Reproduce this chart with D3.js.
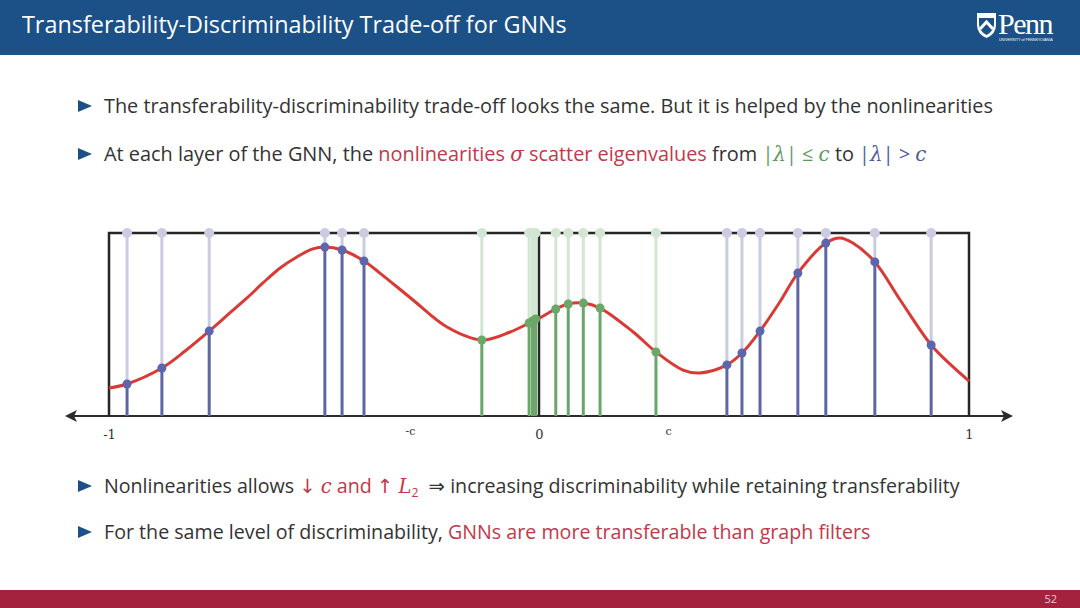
<!DOCTYPE html>
<html>
<head>
<meta charset="utf-8">
<script src="https://cdn.jsdelivr.net/npm/d3@7"></script>
<style>
  html, body { margin: 0; padding: 0; background: #fff; }
  svg { display: block; }
</style>
</head>
<body>
<div id="slide"></div>
<script>
// axis ticks
var tickValues = [-1, -0.3, 0, 0.3, 1];
var tickLabels = ["-1", "-c", "0", "c", "1"];

// red curve (x in [-1,1], y in [0,1])
var curveX = [-1.000, -0.958, -0.877, -0.823, -0.767, -0.719, -0.679, -0.642, -0.602, -0.563, -0.526, -0.498, -0.458, -0.407, -0.370, -0.293, -0.214, -0.133, -0.067, -0.023, 0.002, 0.039, 0.068, 0.103, 0.142, 0.219, 0.272, 0.335, 0.374, 0.437, 0.472, 0.514, 0.560, 0.602, 0.667, 0.700, 0.730, 0.781, 0.840, 0.912, 0.963, 1.000];
var curveY = [0.153, 0.175, 0.262, 0.355, 0.464, 0.563, 0.645, 0.727, 0.809, 0.869, 0.913, 0.923, 0.907, 0.847, 0.781, 0.634, 0.486, 0.415, 0.459, 0.508, 0.536, 0.585, 0.612, 0.617, 0.590, 0.459, 0.350, 0.251, 0.235, 0.279, 0.344, 0.464, 0.623, 0.781, 0.945, 0.973, 0.945, 0.842, 0.634, 0.388, 0.268, 0.191];

// eigenvalues outside [-c, c] (blue)
var outerX = [-0.958, -0.877, -0.767, -0.498, -0.458, -0.407, 0.437, 0.472, 0.514, 0.602, 0.667, 0.781, 0.912];
var outerY = [0.175, 0.262, 0.464, 0.923, 0.907, 0.847, 0.279, 0.344, 0.464, 0.781, 0.945, 0.842, 0.388];

// eigenvalues inside [-c, c] (green)
var innerX = [-0.133, -0.023, -0.015, -0.008, 0.039, 0.068, 0.103, 0.142, 0.272];
var innerY = [0.415, 0.508, 0.519, 0.530, 0.585, 0.612, 0.617, 0.590, 0.350];

var W = 1080, H = 608;
var textFont = "'Open Sans', 'DejaVu Sans', sans-serif";

var svg = d3.select("#slide").append("svg")
  .attr("width", W)
  .attr("height", H);

var defs = svg.append("defs");
defs.append("marker")
  .attr("id", "arrow")
  .attr("viewBox", "0 0 12 12")
  .attr("refX", 10)
  .attr("refY", 6)
  .attr("markerWidth", 12)
  .attr("markerHeight", 12)
  .attr("markerUnits", "userSpaceOnUse")
  .attr("orient", "auto-start-reverse")
  .append("path")
  .attr("d", "M0,0 L12,6 L0,12 L3,6 Z")
  .attr("fill", "#2b2b2b");

// header
svg.append("rect").attr("x", 0).attr("y", 0).attr("width", W).attr("height", 55).attr("fill", "#1b5186");

var title = svg.append("text")
  .attr("x", 22)
  .attr("y", 33)
  .attr("fill", "#ffffff")
  .style("font-family", textFont)
  .style("font-size", "22px")
  .text("Transferability-Discriminability Trade-off for GNNs");
var tlen = title.node().getComputedTextLength();
title.style("font-size", (22 * 545 / tlen) + "px");

// penn logo
var logo = svg.append("g").attr("transform", "translate(977,13)");
logo.append("path")
  .attr("d", "M0,0 L19,0 L19,12 Q19,21 9.5,25 Q0,21 0,12 Z")
  .attr("fill", "#ffffff");
logo.append("path")
  .attr("d", "M2,5 L17,5 L17,11 Q17,18 9.5,22 Q2,18 2,11 Z")
  .attr("fill", "#1b5186");
logo.append("path")
  .attr("d", "M3,16 L9.5,9 L16,16")
  .attr("fill", "none")
  .attr("stroke", "#ffffff")
  .attr("stroke-width", 3);
logo.append("text")
  .attr("x", 21)
  .attr("y", 21)
  .attr("fill", "#ffffff")
  .style("font-family", "'Liberation Serif', 'DejaVu Serif', serif")
  .style("font-size", "30px")
  .style("letter-spacing", "-1.5px")
  .text("Penn");
logo.append("text")
  .attr("x", 22)
  .attr("y", 28)
  .attr("fill", "#ffffff")
  .style("font-family", "'Liberation Sans', sans-serif")
  .style("font-size", "3.6px")
  .text("UNIVERSITY of PENNSYLVANIA");

// footer
svg.append("rect").attr("x", 0).attr("y", 590).attr("width", W).attr("height", 18).attr("fill", "#a5223f");
svg.append("text")
  .attr("x", 1057)
  .attr("y", 603)
  .attr("text-anchor", "end")
  .attr("fill", "#f2c6cf")
  .style("font-family", textFont)
  .style("font-size", "11px")
  .text("52");

// bullets
var black = "#333333", red = "#c0394b", green = "#5d9a5d", blue = "#4f5c9c";

var bullets = [
  { y: 113, width: 889, parts: [
    { t: "The transferability-discriminability trade-off looks the same. But it is helped by the nonlinearities", c: black }
  ]},
  { y: 161, width: 823, parts: [
    { t: "At each layer of the GNN, the ", c: black },
    { t: "nonlinearities ", c: red },
    { t: "σ", c: red, i: true },
    { t: " scatter eigenvalues", c: red },
    { t: " from ", c: black },
    { t: "|", c: green },
    { t: "λ", c: green, i: true },
    { t: "| ≤ ", c: green },
    { t: "c", c: green, i: true },
    { t: " to ", c: black },
    { t: "|", c: blue },
    { t: "λ", c: blue, i: true },
    { t: "| > ", c: blue },
    { t: "c", c: blue, i: true }
  ]},
  { y: 493, width: 856, parts: [
    { t: "Nonlinearities allows ", c: black },
    { t: "↓ ", c: red },
    { t: "c", c: red, i: true },
    { t: " and ↑ ", c: red },
    { t: "L", c: red, i: true },
    { t: "2", c: red, sub: true },
    { t: "  ⇒ increasing discriminability while retaining transferability", c: black }
  ]},
  { y: 539, width: 767, parts: [
    { t: "For the same level of discriminability, ", c: black },
    { t: "GNNs are more transferable than graph filters", c: red }
  ]}
];

bullets.forEach(function (b) {
  svg.append("path")
    .attr("d", "M78," + (b.y - 13) + " L92," + (b.y - 7) + " L78," + (b.y - 1) + " Z")
    .attr("fill", "#1b5186");

  var txt = svg.append("text")
    .attr("x", 104)
    .attr("y", b.y)
    .attr("xml:space", "preserve")
    .style("font-family", textFont)
    .style("font-size", "19px");

  b.parts.forEach(function (p, i) {
    var ts = txt.append("tspan")
      .attr("fill", p.c)
      .style("white-space", "pre")
      .text(p.t);
    if (p.i) ts.style("font-style", "italic").style("font-family", "'DejaVu Serif', serif");
    if (p.sub) ts.style("font-size", "12px").attr("dy", 4);
    if (i > 0 && b.parts[i - 1].sub) ts.attr("dy", -4);
  });

  var len = txt.node().getComputedTextLength();
  var fs = 19 * b.width / len;
  txt.style("font-size", fs + "px");
  txt.selectAll("tspan").each(function (d, i) {
    if (b.parts[i].sub) d3.select(this).style("font-size", (fs * 0.62) + "px");
  });
});

// chart
var x = d3.scaleLinear().domain([-1, 1]).range([109, 969]);
var y = d3.scaleLinear().domain([0, 1]).range([416, 233]);

var chart = svg.append("g").attr("class", "chart");

// horizontal axis with arrows
chart.append("line")
  .attr("x1", x(-1) - 42)
  .attr("x2", x(1) + 42)
  .attr("y1", y(0))
  .attr("y2", y(0))
  .attr("stroke", "#2b2b2b")
  .attr("stroke-width", 2)
  .attr("marker-start", "url(#arrow)")
  .attr("marker-end", "url(#arrow)");

// box
chart.append("path")
  .attr("d", "M" + x(-1) + "," + y(0) + " L" + x(-1) + "," + y(1) + " L" + x(1) + "," + y(1) + " L" + x(1) + "," + y(0))
  .attr("fill", "none")
  .attr("stroke", "#262626")
  .attr("stroke-width", 2.5);
chart.append("line")
  .attr("x1", x(0)).attr("x2", x(0))
  .attr("y1", y(0)).attr("y2", y(1))
  .attr("stroke", "#262626")
  .attr("stroke-width", 2.5);

function stems(xs, ys, dark, light) {
  var data = xs.map(function (v, i) { return { x: v, y: ys[i] }; });
  var g = chart.append("g");
  g.selectAll(".upper").data(data).enter().append("line")
    .attr("x1", function (d) { return x(d.x); })
    .attr("x2", function (d) { return x(d.x); })
    .attr("y1", function (d) { return y(d.y); })
    .attr("y2", y(1))
    .attr("stroke", light)
    .attr("stroke-width", 3);
  g.selectAll(".lower").data(data).enter().append("line")
    .attr("x1", function (d) { return x(d.x); })
    .attr("x2", function (d) { return x(d.x); })
    .attr("y1", y(0))
    .attr("y2", function (d) { return y(d.y); })
    .attr("stroke", dark)
    .attr("stroke-width", 3);
  return data;
}

var outerData = stems(outerX, outerY, "#5e65a3", "#cbcbe2");
var innerData = stems(innerX, innerY, "#6aa56a", "#d3e5d3");

var curveData = curveX.map(function (v, i) { return [v, curveY[i]]; });
chart.append("path")
  .datum(curveData)
  .attr("d", d3.line()
    .x(function (d) { return x(d[0]); })
    .y(function (d) { return y(d[1]); })
    .curve(d3.curveCatmullRom.alpha(0.5)))
  .attr("fill", "none")
  .attr("stroke", "#d93a35")
  .attr("stroke-width", 3);

function dots(data, dark, light) {
  var g = chart.append("g");
  g.selectAll(".top").data(data).enter().append("circle")
    .attr("cx", function (d) { return x(d.x); })
    .attr("cy", y(1))
    .attr("r", 5)
    .attr("fill", light);
  g.selectAll(".pt").data(data).enter().append("circle")
    .attr("cx", function (d) { return x(d.x); })
    .attr("cy", function (d) { return y(d.y); })
    .attr("r", 4.5)
    .attr("fill", dark);
}
dots(outerData, "#5b66ad", "#cbcbe2");
dots(innerData, "#6aa86a", "#d3e5d3");

// tick labels
var ticks = chart.append("g")
  .attr("transform", "translate(0," + y(0) + ")")
  .call(d3.axisBottom(x)
    .tickValues(tickValues)
    .tickFormat(function (d, i) { return tickLabels[i]; })
    .tickSize(0));
ticks.select(".domain").remove();
ticks.selectAll("text")
  .attr("fill", "#333333")
  .style("font-family", "'DejaVu Serif', serif")
  .attr("y", function (d, i) { return tickLabels[i].indexOf("c") >= 0 ? 11 : 14; })
  .style("font-size", function (d, i) { return tickLabels[i].indexOf("c") >= 0 ? "11px" : "13px"; });
</script>
</body>
</html>
